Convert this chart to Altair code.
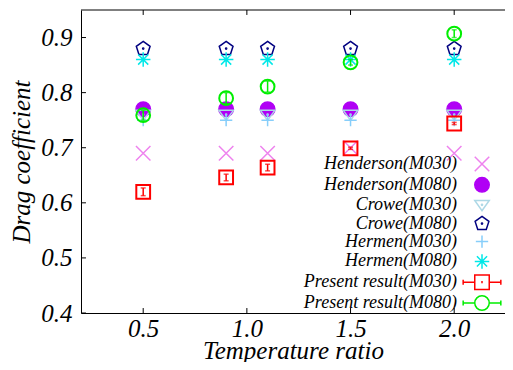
import altair as alt
import pandas as pd

# ---- data ----
temp_ratio = [0.5, 0.9, 1.1, 1.5, 2.0]
henderson_m030 = [0.69, 0.69, 0.69, 0.70, 0.69]
henderson_m080 = [0.77, 0.77, 0.77, 0.77, 0.77]
crowe_m030 = [0.76, 0.76, 0.76, 0.76, 0.76]
crowe_m080 = [0.88, 0.88, 0.88, 0.88, 0.88]
hermen_m030 = [0.75, 0.75, 0.75, 0.75, 0.75]
hermen_m080 = [0.86, 0.86, 0.86, 0.86, 0.86]
present_m030 = [0.62, 0.646, 0.664, 0.699, 0.744]
present_m030_err = [0.007, 0.006, 0.006, 0.002, 0.002]
present_m080 = [0.759, 0.79, 0.811, 0.855, 0.907]
present_m080_err = [0.009, 0.010, 0.010, 0.005, 0.007]

series_names = [
    "Henderson(M030)", "Henderson(M080)", "Crowe(M030)", "Crowe(M080)",
    "Hermen(M030)", "Hermen(M080)", "Present result(M030)", "Present result(M080)",
]
x_ticks = [0.5, 1.0, 1.5, 2.0]
y_ticks = [0.4, 0.5, 0.6, 0.7, 0.8, 0.9]
x_domain = [0.2, 2.245]
y_domain = [0.4, 0.95]

# ---- styles ----
series_colors = ["#ee82ee", "#b000f5", "#add8e6", "#000080",
                 "#87cefa", "#00e8e8", "#ff0000", "#00ee00"]
series_fills = ["transparent", "#b000f5", "transparent", "transparent",
                "transparent", "transparent", "transparent", "transparent"]
dot = "M-0.08,0a0.08,0.08 0 1,0 0.16,0a0.08,0.08 0 1,0 -0.16,0"
bars = "M-2.6,0H-1M1,0H2.6M-2.6,-0.35V0.35M2.6,-0.35V0.35"
series_shapes = [
    "M-1,-1L1,1M-1,1L1,-1",
    "circle",
    "M-1,-0.6L1,-0.6L0,0.8Z" + dot,
    "M0,-1L0.951,-0.309L0.588,0.809L-0.588,0.809L-0.951,-0.309Z" + dot,
    "M-0.85,0H0.85M0,-0.85V0.85",
    "M-1,0H1M0,-1V1M-0.7,-0.7L0.7,0.7M-0.7,0.7L0.7,-0.7",
    "M-1,-1H1V1H-1Z" + bars + "M0,-0.15V0.15",
    "M-1,0A1,1 0 1,0 1,0A1,1 0 1,0 -1,0Z" + bars,
]

rows = []
for name, vals in zip(series_names[:6],
                      [henderson_m030, henderson_m080, crowe_m030,
                       crowe_m080, hermen_m030, hermen_m080]):
    for t, v in zip(temp_ratio, vals):
        rows.append({"series": name, "t": t, "cd": v})
lit_df = pd.DataFrame(rows)

prow = []
for name, vals, errs in [(series_names[6], present_m030, present_m030_err),
                         (series_names[7], present_m080, present_m080_err)]:
    for t, v, e in zip(temp_ratio, vals, errs):
        prow.append({"series": name, "t": t, "cd": v, "lo": v - e, "hi": v + e})
pres_df = pd.DataFrame(prow)

xscale = alt.Scale(domain=x_domain, nice=False, zero=False)
yscale = alt.Scale(domain=y_domain, nice=False, zero=False)

legend = alt.Legend(
    title=None, orient="none", legendX=392, legendY=145,
    labelAlign="right", labelOffset={"expr": "-34"}, labelFont="Liberation Serif",
    labelFontStyle="italic", labelFontSize=18, labelColor="black",
    symbolSize=210, symbolStrokeWidth=1.5, rowPadding={"expr": "-1.2"}, padding=0,
    labelLimit=300,
)
stroke_scale = alt.Scale(domain=series_names, range=series_colors)
fill_scale = alt.Scale(domain=series_names, range=series_fills)
shape_scale = alt.Scale(domain=series_names, range=series_shapes)

X = alt.X("t:Q", scale=xscale, axis=alt.Axis(
    values=x_ticks, format=".1f", title="Temperature ratio", ticks=False,
    labelPadding=3, titlePadding={"expr": "-3"}, grid=False))
Y = alt.Y("cd:Q", scale=yscale, axis=alt.Axis(
    values=y_ticks, format=".1f", title="Drag coefficient", ticks=False,
    labelPadding=9, titlePadding=6, grid=False))

lit = alt.Chart(lit_df).mark_point(filled=False, size=210, strokeWidth=1.5, opacity=1).encode(
    x=X, y=Y,
    stroke=alt.Stroke("series:N", scale=stroke_scale, legend=legend),
    fill=alt.Fill("series:N", scale=fill_scale, legend=legend),
    shape=alt.Shape("series:N", scale=shape_scale, legend=legend),
)

layers = [lit]
for name, shp, col in [(series_names[6], "square", "#ff0000"),
                       (series_names[7], "circle", "#00ee00")]:
    base = alt.Chart(pres_df).transform_filter(alt.datum.series == name)
    layers.append(base.mark_point(shape=shp, filled=False, size=190,
                                  strokeWidth=2, opacity=1).encode(
        x="t:Q", y="cd:Q",
        stroke=alt.Stroke("series:N", scale=stroke_scale, legend=legend)))
    layers.append(base.mark_rule(color=col, strokeWidth=1.5).encode(
        x="t:Q", y="lo:Q", y2="hi:Q"))
    layers.append(base.mark_tick(orient="horizontal", color=col, size=5,
                                 thickness=1.5).encode(x="t:Q", y="lo:Q"))
    layers.append(base.mark_tick(orient="horizontal", color=col, size=5,
                                 thickness=1.5).encode(x="t:Q", y="hi:Q"))

xt_df = pd.DataFrame({"v": x_ticks})
yt_df = pd.DataFrame({"v": y_ticks})
tick_col = "black"
layers += [
    # top frame line (right edge of the frame lies outside the window)
    alt.Chart(xt_df.head(1)).mark_rule(color="black").encode(
        x=alt.datum(x_domain[0]), x2=alt.datum(x_domain[1]), y=alt.datum(y_domain[1])),
    alt.Chart(xt_df).mark_rule(color=tick_col).encode(x="v:Q", y=alt.datum(0.4), y2=alt.datum(0.409)),
    alt.Chart(xt_df).mark_rule(color=tick_col).encode(x="v:Q", y=alt.datum(0.95), y2=alt.datum(0.941)),
    alt.Chart(yt_df).mark_rule(color=tick_col).encode(y="v:Q", x=alt.datum(0.2), x2=alt.datum(0.224)),
]

chart = alt.layer(*layers).properties(
    width=424, height=303,
    autosize=alt.AutoSizeParams(type="none"),
    padding={"left": 73, "top": 2, "right": 0, "bottom": 49},
).configure_view(stroke=None).configure_axis(
    domainColor="black", labelFont="Liberation Serif", labelFontStyle="italic",
    labelFontSize=25, labelColor="black", titleFont="Liberation Serif",
    titleFontStyle="italic", titleFontWeight="normal", titleFontSize=25,
    titleColor="black",
)

chart.save("out.html", embed_options={"renderer": "svg", "actions": False})
